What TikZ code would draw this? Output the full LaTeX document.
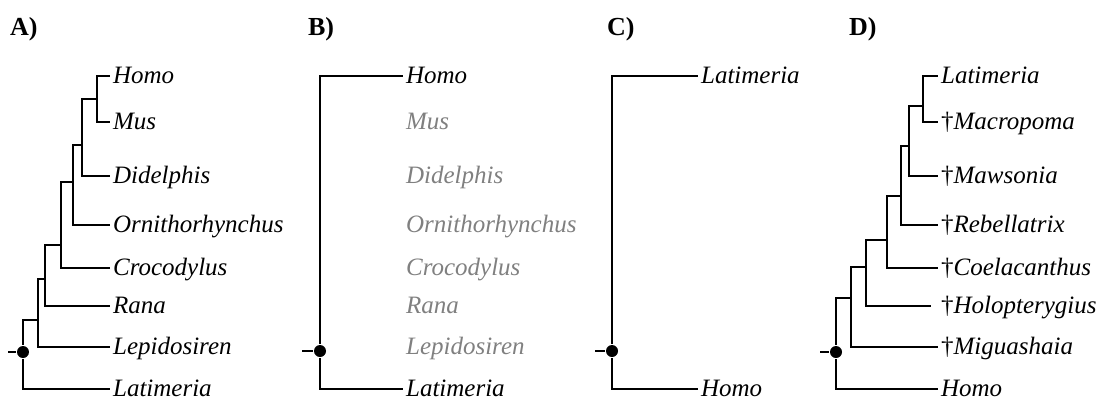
\documentclass[tikz,border=0pt]{standalone}
\usepackage{fontspec}
\setmainfont{Liberation Serif}
\newcommand{\dg}{{\upshape †}}
\begin{document}
\begin{tikzpicture}[x=1pt, y=-1pt, line width=2.2pt,
  taxon/.style={anchor=base west, inner xsep=2pt, inner ysep=0pt, yshift=-7pt, font=\fontsize{25}{30}\selectfont\itshape},
  faded/.style={taxon, text=black!50},
  panel/.style={anchor=base west, inner sep=0pt, font=\fontsize{26}{30}\selectfont\bfseries},
  rootdot/.style={circle, fill, inner sep=0pt, minimum size=12pt}]
\useasboundingbox (0,0) rectangle (1098,400);

% A
\node[panel] (pa) at (9,35) {A)};
\node[rootdot] (ta0) at (23,352) {};
\coordinate (sa) at (8,352);
\coordinate (ta1) at (97,99);
\coordinate (ta2) at (82,145);
\coordinate (ta3) at (73,182);
\coordinate (ta4) at (61,245);
\coordinate (ta5) at (45,279);
\coordinate (ta6) at (38,320);
\coordinate (la1) at (110,76);
\coordinate (la2) at (110,122);
\coordinate (la3) at (110,176);
\coordinate (la4) at (110,225);
\coordinate (la5) at (110,268);
\coordinate (la6) at (110,306);
\coordinate (la7) at (110,347);
\coordinate (la8) at (110,389);
\node[taxon] (na1) at (la1) {Homo};
\node[taxon] (na2) at (la2) {Mus};
\node[taxon] (na3) at (la3) {Didelphis};
\node[taxon] (na4) at (la4) {Ornithorhynchus};
\node[taxon] (na5) at (la5) {Crocodylus};
\node[taxon] (na6) at (la6) {Rana};
\node[taxon] (na7) at (la7) {Lepidosiren};
\node[taxon] (na8) at (la8) {Latimeria};
\draw[](ta1) |- (la1);
\draw[](ta1) |- (la2);
\draw[](ta2) |- (ta1);
\draw[](ta2) |- (la3);
\draw[](ta3) |- (ta2);
\draw[](ta3) |- (la4);
\draw[](ta4) |- (ta3);
\draw[](ta4) |- (la5);
\draw[](ta5) |- (ta4);
\draw[](ta5) |- (la6);
\draw[](ta6) |- (ta5);
\draw[](ta6) |- (la7);
\draw[](ta0) |- (ta6);
\draw[](ta0) |- (la8);
\draw[](sa) -- (ta0);

% B
\node[panel] (pb) at (307,35) {B)};
\node[rootdot] (tb0) at (320,351) {};
\coordinate (sb) at (302,351);
\coordinate (lb1) at (403,76);
\coordinate (lb8) at (403,389);
\node[taxon] (nb1) at (lb1) {Homo};
\node[faded] (nb2) at (403,122) {Mus};
\node[faded] (nb3) at (403,176) {Didelphis};
\node[faded] (nb4) at (403,225) {Ornithorhynchus};
\node[faded] (nb5) at (403,268) {Crocodylus};
\node[faded] (nb6) at (403,306) {Rana};
\node[faded] (nb7) at (403,347) {Lepidosiren};
\node[taxon] (nb8) at (lb8) {Latimeria};
\draw[](tb0) |- (lb1);
\draw[](tb0) |- (lb8);
\draw[](sb) -- (tb0);

% C
\node[panel] (pc) at (606,35) {C)};
\node[rootdot] (tc0) at (612,351) {};
\coordinate (sc) at (595,351);
\coordinate (lc1) at (698,76);
\coordinate (lc2) at (698,389);
\node[taxon] (nc1) at (lc1) {Latimeria};
\node[taxon] (nc2) at (lc2) {Homo};
\draw[](tc0) |- (lc1);
\draw[](tc0) |- (lc2);
\draw[](sc) -- (tc0);

% D
\node[panel] (pd) at (848,35) {D)};
\node[rootdot] (td0) at (836,352) {};
\coordinate (sd) at (820,352);
\coordinate (td1) at (923,106);
\coordinate (td2) at (909,146);
\coordinate (td3) at (901,196);
\coordinate (td4) at (887,240);
\coordinate (td5) at (866,267);
\coordinate (td6) at (851,298);
\coordinate (ld1) at (938,76);
\coordinate (ld2) at (938,122);
\coordinate (ld3) at (938,176);
\coordinate (ld4) at (938,225);
\coordinate (ld5) at (938,268);
\coordinate (ld6) at (931,306);
\coordinate (ld7) at (938,347);
\coordinate (ld8) at (938,389);
\node[taxon] (nd1) at (ld1) {Latimeria};
\node[taxon] (nd2) at (ld2) {\dg Macropoma};
\node[taxon] (nd3) at (ld3) {\dg Mawsonia};
\node[taxon] (nd4) at (ld4) {\dg Rebellatrix};
\node[taxon] (nd5) at (ld5) {\dg Coelacanthus};
\node[taxon] (nd6) at (938,306) {\dg Holopterygius};
\node[taxon] (nd7) at (ld7) {\dg Miguashaia};
\node[taxon] (nd8) at (ld8) {Homo};
\draw[](td1) |- (ld1);
\draw[](td1) |- (ld2);
\draw[](td2) |- (td1);
\draw[](td2) |- (ld3);
\draw[](td3) |- (td2);
\draw[](td3) |- (ld4);
\draw[](td4) |- (td3);
\draw[](td4) |- (ld5);
\draw[](td5) |- (td4);
\draw[](td5) |- (ld6);
\draw[](td6) |- (td5);
\draw[](td6) |- (ld7);
\draw[](td0) |- (td6);
\draw[](td0) |- (ld8);
\draw[](sd) -- (td0);

\end{tikzpicture}
\end{document}
